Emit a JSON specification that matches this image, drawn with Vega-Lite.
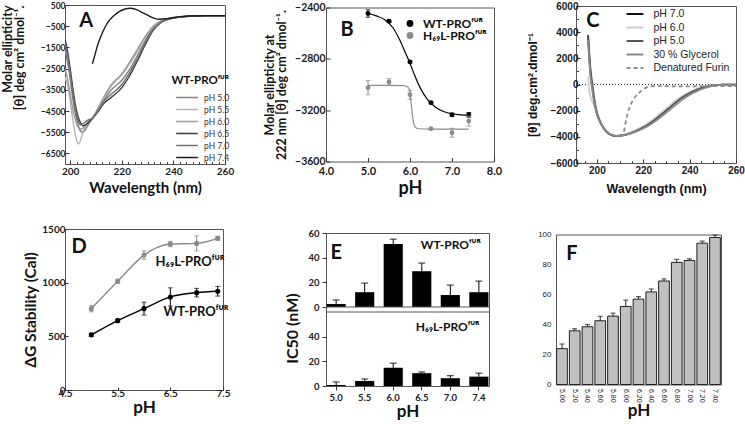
{
"$schema":"https://vega.github.io/schema/vega-lite/v6.json",
"autosize":{"type":"pad"},
"padding":{"left":0,"top":0,"right":4,"bottom":2},
"background":"white",
"config":{"view":{"stroke":null},"axis":{"grid":false,"domain":false,"labelFont":"Lato","titleFont":"Lato","labelFontWeight":"bold","titleFontWeight":"bold","labelColor":"#1a1a1a","titleColor":"#111111","tickColor":"#333333","labelFlush":false,"labelOverlap":false},"legend":{"padding":0},"text":{"font":"Lato","fontWeight":"bold","color":"#111111"}},
"datasets":{
"a":[
{"x":198,"y":-1600,"s":"pH 5.0"},{"x":199,"y":-2200,"s":"pH 5.0"},{"x":200,"y":-3000,"s":"pH 5.0"},{"x":201,"y":-3900,"s":"pH 5.0"},{"x":202,"y":-4600,"s":"pH 5.0"},{"x":203,"y":-5100,"s":"pH 5.0"},{"x":204,"y":-5450,"s":"pH 5.0"},{"x":205,"y":-5500,"s":"pH 5.0"},{"x":206,"y":-5350,"s":"pH 5.0"},{"x":207.5,"y":-5050,"s":"pH 5.0"},{"x":208.6,"y":-4850,"s":"pH 5.0"},{"x":211,"y":-4400,"s":"pH 5.0"},{"x":213,"y":-4000,"s":"pH 5.0"},{"x":216,"y":-3500,"s":"pH 5.0"},{"x":220,"y":-3050,"s":"pH 5.0"},{"x":223,"y":-2550,"s":"pH 5.0"},{"x":226,"y":-1900,"s":"pH 5.0"},{"x":229,"y":-1200,"s":"pH 5.0"},{"x":232,"y":-620,"s":"pH 5.0"},{"x":235,"y":-300,"s":"pH 5.0"},{"x":238,"y":-160,"s":"pH 5.0"},{"x":242,"y":-70,"s":"pH 5.0"},{"x":247,"y":-20,"s":"pH 5.0"},{"x":252,"y":0,"s":"pH 5.0"},{"x":260,"y":0,"s":"pH 5.0"},
{"x":198,"y":-2900,"s":"pH 5.5"},{"x":199,"y":-3300,"s":"pH 5.5"},{"x":200,"y":-4000,"s":"pH 5.5"},{"x":201,"y":-4900,"s":"pH 5.5"},{"x":202,"y":-5600,"s":"pH 5.5"},{"x":203,"y":-6050,"s":"pH 5.5"},{"x":204,"y":-5900,"s":"pH 5.5"},{"x":205,"y":-5450,"s":"pH 5.5"},{"x":206.5,"y":-5100,"s":"pH 5.5"},{"x":208.6,"y":-4850,"s":"pH 5.5"},{"x":211,"y":-4350,"s":"pH 5.5"},{"x":213,"y":-3900,"s":"pH 5.5"},{"x":216,"y":-3300,"s":"pH 5.5"},{"x":220,"y":-2800,"s":"pH 5.5"},{"x":223,"y":-2300,"s":"pH 5.5"},{"x":226,"y":-1700,"s":"pH 5.5"},{"x":229,"y":-1050,"s":"pH 5.5"},{"x":232,"y":-550,"s":"pH 5.5"},{"x":235,"y":-280,"s":"pH 5.5"},{"x":238,"y":-150,"s":"pH 5.5"},{"x":242,"y":-70,"s":"pH 5.5"},{"x":247,"y":-20,"s":"pH 5.5"},{"x":252,"y":0,"s":"pH 5.5"},{"x":260,"y":0,"s":"pH 5.5"},
{"x":198,"y":-2500,"s":"pH 6.0"},{"x":199,"y":-3000,"s":"pH 6.0"},{"x":200,"y":-3700,"s":"pH 6.0"},{"x":201,"y":-4400,"s":"pH 6.0"},{"x":202,"y":-4900,"s":"pH 6.0"},{"x":203,"y":-5250,"s":"pH 6.0"},{"x":204,"y":-5350,"s":"pH 6.0"},{"x":205,"y":-5300,"s":"pH 6.0"},{"x":206,"y":-5150,"s":"pH 6.0"},{"x":207.5,"y":-4950,"s":"pH 6.0"},{"x":208.6,"y":-4850,"s":"pH 6.0"},{"x":211,"y":-4300,"s":"pH 6.0"},{"x":213,"y":-3850,"s":"pH 6.0"},{"x":216,"y":-3250,"s":"pH 6.0"},{"x":220,"y":-2750,"s":"pH 6.0"},{"x":223,"y":-2200,"s":"pH 6.0"},{"x":226,"y":-1600,"s":"pH 6.0"},{"x":229,"y":-1000,"s":"pH 6.0"},{"x":232,"y":-520,"s":"pH 6.0"},{"x":235,"y":-260,"s":"pH 6.0"},{"x":238,"y":-140,"s":"pH 6.0"},{"x":242,"y":-60,"s":"pH 6.0"},{"x":247,"y":-20,"s":"pH 6.0"},{"x":252,"y":0,"s":"pH 6.0"},{"x":260,"y":0,"s":"pH 6.0"},
{"x":198,"y":-1100,"s":"pH 6.5"},{"x":199,"y":-1700,"s":"pH 6.5"},{"x":200,"y":-2500,"s":"pH 6.5"},{"x":201,"y":-3400,"s":"pH 6.5"},{"x":202,"y":-4200,"s":"pH 6.5"},{"x":203,"y":-4750,"s":"pH 6.5"},{"x":204,"y":-5050,"s":"pH 6.5"},{"x":205,"y":-5200,"s":"pH 6.5"},{"x":206,"y":-5150,"s":"pH 6.5"},{"x":207.5,"y":-5000,"s":"pH 6.5"},{"x":208.6,"y":-4850,"s":"pH 6.5"},{"x":211,"y":-4500,"s":"pH 6.5"},{"x":213,"y":-4150,"s":"pH 6.5"},{"x":216,"y":-3850,"s":"pH 6.5"},{"x":220,"y":-3400,"s":"pH 6.5"},{"x":223,"y":-2850,"s":"pH 6.5"},{"x":226,"y":-2150,"s":"pH 6.5"},{"x":229,"y":-1400,"s":"pH 6.5"},{"x":232,"y":-720,"s":"pH 6.5"},{"x":235,"y":-350,"s":"pH 6.5"},{"x":238,"y":-180,"s":"pH 6.5"},{"x":242,"y":-80,"s":"pH 6.5"},{"x":247,"y":-25,"s":"pH 6.5"},{"x":252,"y":0,"s":"pH 6.5"},{"x":260,"y":0,"s":"pH 6.5"},
{"x":198,"y":-1300,"s":"pH 7.0"},{"x":199,"y":-1900,"s":"pH 7.0"},{"x":200,"y":-2700,"s":"pH 7.0"},{"x":201,"y":-3600,"s":"pH 7.0"},{"x":202,"y":-4400,"s":"pH 7.0"},{"x":203,"y":-4900,"s":"pH 7.0"},{"x":204,"y":-5150,"s":"pH 7.0"},{"x":205,"y":-5100,"s":"pH 7.0"},{"x":206,"y":-5000,"s":"pH 7.0"},{"x":207.5,"y":-4900,"s":"pH 7.0"},{"x":208.6,"y":-4850,"s":"pH 7.0"},{"x":211,"y":-4450,"s":"pH 7.0"},{"x":213,"y":-4050,"s":"pH 7.0"},{"x":216,"y":-3700,"s":"pH 7.0"},{"x":220,"y":-3250,"s":"pH 7.0"},{"x":223,"y":-2700,"s":"pH 7.0"},{"x":226,"y":-2050,"s":"pH 7.0"},{"x":229,"y":-1300,"s":"pH 7.0"},{"x":232,"y":-680,"s":"pH 7.0"},{"x":235,"y":-330,"s":"pH 7.0"},{"x":238,"y":-170,"s":"pH 7.0"},{"x":242,"y":-75,"s":"pH 7.0"},{"x":247,"y":-22,"s":"pH 7.0"},{"x":252,"y":0,"s":"pH 7.0"},{"x":260,"y":0,"s":"pH 7.0"},
{"x":208.6,"y":-2270,"s":"pH 7.4"},{"x":209.5,"y":-1900,"s":"pH 7.4"},{"x":210.5,"y":-1450,"s":"pH 7.4"},{"x":212,"y":-950,"s":"pH 7.4"},{"x":213.5,"y":-550,"s":"pH 7.4"},{"x":215,"y":-250,"s":"pH 7.4"},{"x":217,"y":0,"s":"pH 7.4"},{"x":219,"y":190,"s":"pH 7.4"},{"x":221,"y":300,"s":"pH 7.4"},{"x":223.5,"y":345,"s":"pH 7.4"},{"x":226,"y":270,"s":"pH 7.4"},{"x":228,"y":140,"s":"pH 7.4"},{"x":230,"y":20,"s":"pH 7.4"},{"x":231.3,"y":-64,"s":"pH 7.4"},{"x":233,"y":-140,"s":"pH 7.4"},{"x":234.5,"y":-172,"s":"pH 7.4"},{"x":237,"y":-150,"s":"pH 7.4"},{"x":239.7,"y":-95,"s":"pH 7.4"},{"x":243,"y":-50,"s":"pH 7.4"},{"x":246,"y":-20,"s":"pH 7.4"},{"x":252,"y":-10,"s":"pH 7.4"},{"x":260,"y":-10,"s":"pH 7.4"}
],
"bpts":[
{"x":5.0,"y":-2447,"lo":-2476,"hi":-2418,"s":"WT-PROᶠᵁᴿ"},{"x":5.5,"y":-2507,"lo":-2515,"hi":-2499,"s":"WT-PROᶠᵁᴿ"},{"x":6.0,"y":-2824,"lo":-2832,"hi":-2816,"s":"WT-PROᶠᵁᴿ"},{"x":6.5,"y":-3142,"lo":-3150,"hi":-3134,"s":"WT-PROᶠᵁᴿ"},{"x":7.0,"y":-3236,"lo":-3248,"hi":-3224,"s":"WT-PROᶠᵁᴿ"},{"x":7.4,"y":-3236,"lo":-3254,"hi":-3218,"s":"WT-PROᶠᵁᴿ"},
{"x":5.0,"y":-3025,"lo":-3080,"hi":-2970,"s":"H₆₉L-PROᶠᵁᴿ"},{"x":5.5,"y":-2980,"lo":-3005,"hi":-2955,"s":"H₆₉L-PROᶠᵁᴿ"},{"x":6.0,"y":-3080,"lo":-3115,"hi":-3045,"s":"H₆₉L-PROᶠᵁᴿ"},{"x":6.5,"y":-3345,"lo":-3351,"hi":-3339,"s":"H₆₉L-PROᶠᵁᴿ"},{"x":7.0,"y":-3376,"lo":-3411,"hi":-3341,"s":"H₆₉L-PROᶠᵁᴿ"},{"x":7.4,"y":-3285,"lo":-3325,"hi":-3245,"s":"H₆₉L-PROᶠᵁᴿ"}
],
"bfit":[
{"x":5.0,"y":-2445,"s":"WT-PROᶠᵁᴿ"},{"x":5.2,"y":-2465,"s":"WT-PROᶠᵁᴿ"},{"x":5.4,"y":-2495,"s":"WT-PROᶠᵁᴿ"},{"x":5.6,"y":-2560,"s":"WT-PROᶠᵁᴿ"},{"x":5.75,"y":-2650,"s":"WT-PROᶠᵁᴿ"},{"x":5.9,"y":-2760,"s":"WT-PROᶠᵁᴿ"},{"x":6.0,"y":-2835,"s":"WT-PROᶠᵁᴿ"},{"x":6.1,"y":-2920,"s":"WT-PROᶠᵁᴿ"},{"x":6.25,"y":-3030,"s":"WT-PROᶠᵁᴿ"},{"x":6.4,"y":-3110,"s":"WT-PROᶠᵁᴿ"},{"x":6.6,"y":-3175,"s":"WT-PROᶠᵁᴿ"},{"x":6.8,"y":-3210,"s":"WT-PROᶠᵁᴿ"},{"x":7.0,"y":-3228,"s":"WT-PROᶠᵁᴿ"},{"x":7.2,"y":-3236,"s":"WT-PROᶠᵁᴿ"},{"x":7.4,"y":-3240,"s":"WT-PROᶠᵁᴿ"},
{"x":5.0,"y":-3007,"s":"H₆₉L-PROᶠᵁᴿ"},{"x":5.5,"y":-3007,"s":"H₆₉L-PROᶠᵁᴿ"},{"x":5.85,"y":-3008,"s":"H₆₉L-PROᶠᵁᴿ"},{"x":5.95,"y":-3020,"s":"H₆₉L-PROᶠᵁᴿ"},{"x":6.0,"y":-3060,"s":"H₆₉L-PROᶠᵁᴿ"},{"x":6.03,"y":-3150,"s":"H₆₉L-PROᶠᵁᴿ"},{"x":6.07,"y":-3270,"s":"H₆₉L-PROᶠᵁᴿ"},{"x":6.12,"y":-3330,"s":"H₆₉L-PROᶠᵁᴿ"},{"x":6.2,"y":-3345,"s":"H₆₉L-PROᶠᵁᴿ"},{"x":6.5,"y":-3347,"s":"H₆₉L-PROᶠᵁᴿ"},{"x":7.4,"y":-3347,"s":"H₆₉L-PROᶠᵁᴿ"}
],
"c":[
{"x":196.2,"y":3700,"s":"pH 7.0"},{"x":196.6,"y":2500,"s":"pH 7.0"},{"x":197.2,"y":1000,"s":"pH 7.0"},{"x":198,"y":-200,"s":"pH 7.0"},{"x":199,"y":-1400,"s":"pH 7.0"},{"x":200,"y":-2200,"s":"pH 7.0"},{"x":201.5,"y":-2900,"s":"pH 7.0"},{"x":203,"y":-3350,"s":"pH 7.0"},{"x":205,"y":-3720,"s":"pH 7.0"},{"x":207,"y":-3890,"s":"pH 7.0"},{"x":208.5,"y":-3930,"s":"pH 7.0"},{"x":210,"y":-3900,"s":"pH 7.0"},{"x":213,"y":-3780,"s":"pH 7.0"},{"x":216,"y":-3580,"s":"pH 7.0"},{"x":219,"y":-3320,"s":"pH 7.0"},{"x":222,"y":-3030,"s":"pH 7.0"},{"x":225,"y":-2640,"s":"pH 7.0"},{"x":228,"y":-2200,"s":"pH 7.0"},{"x":231,"y":-1750,"s":"pH 7.0"},{"x":234,"y":-1300,"s":"pH 7.0"},{"x":237,"y":-920,"s":"pH 7.0"},{"x":240,"y":-620,"s":"pH 7.0"},{"x":243,"y":-380,"s":"pH 7.0"},{"x":246,"y":-200,"s":"pH 7.0"},{"x":249,"y":-90,"s":"pH 7.0"},{"x":252,"y":-30,"s":"pH 7.0"},{"x":256,"y":-10,"s":"pH 7.0"},{"x":260,"y":-20,"s":"pH 7.0"},
{"x":196.2,"y":600,"s":"pH 6.0"},{"x":196.6,"y":-300,"s":"pH 6.0"},{"x":197.2,"y":-900,"s":"pH 6.0"},{"x":198,"y":-1300,"s":"pH 6.0"},{"x":199,"y":-1700,"s":"pH 6.0"},{"x":200,"y":-2150,"s":"pH 6.0"},{"x":201.5,"y":-2800,"s":"pH 6.0"},{"x":203,"y":-3300,"s":"pH 6.0"},{"x":205,"y":-3700,"s":"pH 6.0"},{"x":207,"y":-3880,"s":"pH 6.0"},{"x":208.5,"y":-3920,"s":"pH 6.0"},{"x":210,"y":-3890,"s":"pH 6.0"},{"x":213,"y":-3760,"s":"pH 6.0"},{"x":216,"y":-3550,"s":"pH 6.0"},{"x":219,"y":-3270,"s":"pH 6.0"},{"x":222,"y":-2960,"s":"pH 6.0"},{"x":225,"y":-2560,"s":"pH 6.0"},{"x":228,"y":-2120,"s":"pH 6.0"},{"x":231,"y":-1680,"s":"pH 6.0"},{"x":234,"y":-1240,"s":"pH 6.0"},{"x":237,"y":-870,"s":"pH 6.0"},{"x":240,"y":-580,"s":"pH 6.0"},{"x":243,"y":-350,"s":"pH 6.0"},{"x":246,"y":-180,"s":"pH 6.0"},{"x":249,"y":-80,"s":"pH 6.0"},{"x":252,"y":-30,"s":"pH 6.0"},{"x":256,"y":-10,"s":"pH 6.0"},{"x":260,"y":-20,"s":"pH 6.0"},
{"x":196.2,"y":3800,"s":"pH 5.0"},{"x":196.6,"y":2700,"s":"pH 5.0"},{"x":197.2,"y":1300,"s":"pH 5.0"},{"x":198,"y":100,"s":"pH 5.0"},{"x":199,"y":-1200,"s":"pH 5.0"},{"x":200,"y":-2100,"s":"pH 5.0"},{"x":201.5,"y":-2850,"s":"pH 5.0"},{"x":203,"y":-3350,"s":"pH 5.0"},{"x":205,"y":-3740,"s":"pH 5.0"},{"x":207,"y":-3900,"s":"pH 5.0"},{"x":208.5,"y":-3940,"s":"pH 5.0"},{"x":210,"y":-3920,"s":"pH 5.0"},{"x":213,"y":-3810,"s":"pH 5.0"},{"x":216,"y":-3620,"s":"pH 5.0"},{"x":219,"y":-3370,"s":"pH 5.0"},{"x":222,"y":-3080,"s":"pH 5.0"},{"x":225,"y":-2700,"s":"pH 5.0"},{"x":228,"y":-2280,"s":"pH 5.0"},{"x":231,"y":-1830,"s":"pH 5.0"},{"x":234,"y":-1380,"s":"pH 5.0"},{"x":237,"y":-980,"s":"pH 5.0"},{"x":240,"y":-660,"s":"pH 5.0"},{"x":243,"y":-410,"s":"pH 5.0"},{"x":246,"y":-220,"s":"pH 5.0"},{"x":249,"y":-100,"s":"pH 5.0"},{"x":252,"y":-40,"s":"pH 5.0"},{"x":256,"y":-10,"s":"pH 5.0"},{"x":260,"y":-20,"s":"pH 5.0"},
{"x":196.2,"y":3400,"s":"30 % Glycerol"},{"x":196.6,"y":2200,"s":"30 % Glycerol"},{"x":197.2,"y":700,"s":"30 % Glycerol"},{"x":198,"y":-400,"s":"30 % Glycerol"},{"x":199,"y":-1500,"s":"30 % Glycerol"},{"x":200,"y":-2250,"s":"30 % Glycerol"},{"x":201.5,"y":-2900,"s":"30 % Glycerol"},{"x":203,"y":-3350,"s":"30 % Glycerol"},{"x":205,"y":-3700,"s":"30 % Glycerol"},{"x":207,"y":-3870,"s":"30 % Glycerol"},{"x":208.5,"y":-3920,"s":"30 % Glycerol"},{"x":210,"y":-3910,"s":"30 % Glycerol"},{"x":213,"y":-3820,"s":"30 % Glycerol"},{"x":216,"y":-3660,"s":"30 % Glycerol"},{"x":219,"y":-3440,"s":"30 % Glycerol"},{"x":222,"y":-3180,"s":"30 % Glycerol"},{"x":225,"y":-2830,"s":"30 % Glycerol"},{"x":228,"y":-2430,"s":"30 % Glycerol"},{"x":231,"y":-2000,"s":"30 % Glycerol"},{"x":234,"y":-1560,"s":"30 % Glycerol"},{"x":237,"y":-1150,"s":"30 % Glycerol"},{"x":240,"y":-800,"s":"30 % Glycerol"},{"x":243,"y":-520,"s":"30 % Glycerol"},{"x":246,"y":-300,"s":"30 % Glycerol"},{"x":249,"y":-150,"s":"30 % Glycerol"},{"x":252,"y":-60,"s":"30 % Glycerol"},{"x":256,"y":-20,"s":"30 % Glycerol"},{"x":260,"y":-30,"s":"30 % Glycerol"},
{"x":211.7,"y":-3600,"s":"Denatured Furin"},{"x":212.3,"y":-3000,"s":"Denatured Furin"},{"x":213.1,"y":-2340,"s":"Denatured Furin"},{"x":214,"y":-1800,"s":"Denatured Furin"},{"x":215.2,"y":-1320,"s":"Denatured Furin"},{"x":216.5,"y":-950,"s":"Denatured Furin"},{"x":218.1,"y":-660,"s":"Denatured Furin"},{"x":219.5,"y":-430,"s":"Denatured Furin"},{"x":221,"y":-260,"s":"Denatured Furin"},{"x":223,"y":-140,"s":"Denatured Furin"},{"x":226,"y":-110,"s":"Denatured Furin"},{"x":230,"y":-130,"s":"Denatured Furin"},{"x":235,"y":-150,"s":"Denatured Furin"},{"x":240,"y":-140,"s":"Denatured Furin"},{"x":245,"y":-130,"s":"Denatured Furin"},{"x":250,"y":-130,"s":"Denatured Furin"},{"x":255,"y":-130,"s":"Denatured Furin"},{"x":260,"y":-130,"s":"Denatured Furin"}
],
"d":[
{"x":5.0,"y":514,"lo":499,"hi":529,"s":"WT"},{"x":5.5,"y":646,"lo":631,"hi":661,"s":"WT"},{"x":6.0,"y":758,"lo":698,"hi":818,"s":"WT"},{"x":6.5,"y":867,"lo":782,"hi":952,"s":"WT"},{"x":7.0,"y":907,"lo":867,"hi":947,"s":"WT"},{"x":7.4,"y":920,"lo":875,"hi":965,"s":"WT"},
{"x":5.0,"y":758,"lo":728,"hi":788,"s":"H"},{"x":5.5,"y":1013,"lo":993,"hi":1033,"s":"H"},{"x":6.0,"y":1257,"lo":1217,"hi":1297,"s":"H"},{"x":6.5,"y":1360,"lo":1335,"hi":1385,"s":"H"},{"x":7.0,"y":1366,"lo":1296,"hi":1436,"s":"H"},{"x":7.4,"y":1413,"lo":1393,"hi":1433,"s":"H"}
],
"e1":[
{"x":"5.0","y":2.4,"hi":5.7},{"x":"5.5","y":12,"hi":19.4},{"x":"6.0","y":51,"hi":55},{"x":"6.5","y":29,"hi":35.6},{"x":"7.0","y":9.7,"hi":17.8},{"x":"7.4","y":12,"hi":21}
],
"e2":[
{"x":"5.0","y":0.8,"hi":3.3},{"x":"5.5","y":4.1,"hi":5.7},{"x":"6.0","y":14.7,"hi":18.5},{"x":"6.5","y":10.4,"hi":11.4},{"x":"7.0","y":6.3,"hi":8.4},{"x":"7.4","y":7.6,"hi":10.4}
],
"f":[
{"x":"5.00","y":23.9,"hi":27},{"x":"5.20","y":35.8,"hi":37.2},{"x":"5.40","y":38.5,"hi":40},{"x":"5.60","y":42.5,"hi":45.4},{"x":"5.80","y":45.6,"hi":47.6},{"x":"6.00","y":52,"hi":56.2},{"x":"6.20","y":56.9,"hi":58.6},{"x":"6.40","y":61.7,"hi":63.7},{"x":"6.60","y":69,"hi":70.4},{"x":"6.80","y":81.4,"hi":83.4},{"x":"7.00","y":82.7,"hi":83.8},{"x":"7.20","y":94.2,"hi":95.6},{"x":"7.40","y":98,"hi":99.6}
]
},
"spacing":25,
"resolve":{"scale":{"color":"independent","strokeDash":"independent"},"legend":{"color":"independent","strokeDash":"independent"}},
"vconcat":[
{"hconcat":[
 {"width":160,"height":159,"view":{"stroke":"#555555"},
  "resolve":{"axis":{"x":"independent"}},
  "layer":[
   {"data":{"name":"a"},"mark":{"type":"line","strokeWidth":1.4,"interpolate":"monotone","clip":true},
    "encoding":{
     "x":{"field":"x","type":"quantitative","scale":{"domain":[198,260],"nice":false,"zero":false},"axis":{"orient":"bottom","values":[200,220,240,260],"tickCount":20,"title":"Wavelength (nm)","titleFontSize":15,"labelFontSize":10,"tickSize":-4,"labelPadding":6,"titlePadding":4}},
     "y":{"field":"y","type":"quantitative","scale":{"domain":[-7000,500],"nice":false,"zero":false},"axis":{"values":[500,-500,-1500,-2500,-3500,-4500,-5500,-6500],"tickCount":30,"format":"d","title":["Molar ellipticity","[θ] deg cm² dmol⁻¹."],"titleFontSize":12.5,"titleLineHeight":12,"titleAnchor":"end","labelFontSize":8.5,"tickSize":-4,"labelPadding":4,"titlePadding":14}},
     "color":{"field":"s","type":"nominal","scale":{"domain":["pH 5.0","pH 5.5","pH 6.0","pH 6.5","pH 7.0","pH 7.4"],"range":["#808080","#b4b4b4","#9a9a9a","#3a3a3a","#707070","#1a1a1a"]},
      "legend":{"title":"WT-PROᶠᵁᴿ","orient":"none","legendX":106,"legendY":70,"symbolType":"M-1.8,0H1.8","symbolSize":144,"symbolStrokeWidth":1.5,"labelFont":"Lato","labelFontSize":8.5,"labelColor":"#333333","titleFont":"Lato","titleFontSize":11.5,"titleFontWeight":"bold","titleColor":"#111111","titleAnchor":"end","titlePadding":4,"rowPadding":0,"labelOffset":10}}
    }},
   {"data":{"values":[{"x":206.2,"y":-250,"t":"A"}]},"mark":{"type":"text","fontSize":20},"encoding":{"x":{"field":"x","type":"quantitative","axis":null},"y":{"field":"y","type":"quantitative"},"text":{"field":"t"}}},
   {"data":{"values":[{"x":200},{"x":202.5},{"x":205},{"x":207.5},{"x":210},{"x":212.5},{"x":215},{"x":217.5},{"x":220},{"x":222.5},{"x":225},{"x":227.5},{"x":230},{"x":232.5},{"x":235},{"x":237.5},{"x":240},{"x":242.5},{"x":245},{"x":247.5},{"x":250},{"x":252.5},{"x":255},{"x":257.5}]},"mark":{"type":"point","opacity":0},
    "encoding":{"x":{"field":"x","type":"quantitative","axis":{"orient":"bottom","values":[202.5,205,207.5,210,212.5,215,217.5,222.5,225,227.5,230,232.5,235,237.5,242.5,245,247.5,250,252.5,255,257.5],"tickCount":60,"labels":false,"title":null,"tickSize":-2.5,"tickColor":"#444444"}}}}
  ]},
 {"width":101,"height":1,"data":{"values":[{"x":0}]},"mark":{"type":"point","opacity":0}},
 {"width":168,"height":154,"view":{"stroke":"#555555"},
  "layer":[
   {"data":{"name":"bpts"},"mark":{"type":"point","filled":true,"size":24,"opacity":1},
    "encoding":{
     "x":{"field":"x","type":"quantitative","scale":{"domain":[4,8],"nice":false,"zero":false},"axis":{"values":[4,5,6,7,8],"tickCount":20,"format":".1f","title":"pH","titleFontSize":18,"labelFontSize":11,"tickSize":-4,"labelPadding":8,"titlePadding":3}},
     "y":{"field":"y","type":"quantitative","scale":{"domain":[-3600,-2400],"nice":false,"zero":false},"axis":{"values":[-2400,-2800,-3200,-3600],"tickCount":20,"format":"d","title":["Molar ellipticity at","222 nm  [θ] deg cm² dmol⁻¹."],"titleFontSize":12.5,"titleLineHeight":12,"labelFontSize":10.5,"tickSize":-4,"labelPadding":5,"titlePadding":6}},
     "color":{"field":"s","type":"nominal","scale":{"domain":["WT-PROᶠᵁᴿ","H₆₉L-PROᶠᵁᴿ"],"range":["#000000","#8c8c8c"]},
      "legend":{"title":null,"orient":"none","legendX":78,"legendY":10,"symbolType":"circle","symbolSize":28,"labelFont":"Lato","labelFontSize":12,"labelFontWeight":"bold","labelColor":"#111111","rowPadding":-1,"labelOffset":7}}
    }},
   {"data":{"name":"bfit"},"mark":{"type":"line","strokeWidth":1.2,"interpolate":"monotone"},
    "encoding":{"x":{"field":"x","type":"quantitative"},"y":{"field":"y","type":"quantitative"},"color":{"field":"s","type":"nominal"}}},
   {"data":{"name":"bpts"},"mark":{"type":"rule","strokeWidth":1},
    "encoding":{"x":{"field":"x","type":"quantitative"},"y":{"field":"lo","type":"quantitative"},"y2":{"field":"hi"},"color":{"field":"s","type":"nominal"}}},
   {"data":{"name":"bpts"},"mark":{"type":"tick","orient":"horizontal","size":5,"thickness":1},
    "encoding":{"x":{"field":"x","type":"quantitative"},"y":{"field":"lo","type":"quantitative"},"color":{"field":"s","type":"nominal"}}},
   {"data":{"name":"bpts"},"mark":{"type":"tick","orient":"horizontal","size":5,"thickness":1},
    "encoding":{"x":{"field":"x","type":"quantitative"},"y":{"field":"hi","type":"quantitative"},"color":{"field":"s","type":"nominal"}}},
   {"data":{"values":[{"x":4.5,"y":-2579,"t":"B"}]},"mark":{"type":"text","fontSize":20},"encoding":{"x":{"field":"x","type":"quantitative"},"y":{"field":"y","type":"quantitative"},"text":{"field":"t"}}}
  ]},
 {"width":82,"height":1,"data":{"values":[{"x":0}]},"mark":{"type":"point","opacity":0}},
 {"width":160,"height":157,"view":{"stroke":"#555555"},
  "resolve":{"axis":{"x":"independent","y":"independent"}},
  "layer":[
   {"data":{"values":[{"y":0}]},"mark":{"type":"rule","strokeDash":[1,2],"color":"#333333","strokeWidth":1},"encoding":{"y":{"field":"y","type":"quantitative","axis":null}}},
   {"data":{"name":"c"},"mark":{"type":"line","strokeWidth":1.8,"interpolate":"monotone","clip":true},
    "encoding":{
     "x":{"field":"x","type":"quantitative","scale":{"domain":[191,260],"nice":false,"zero":false},"axis":{"orient":"bottom","values":[200,220,240,260],"tickCount":20,"title":"Wavelength (nm)","titleFont":"Liberation Sans","labelFont":"Liberation Sans","titleFontSize":12.5,"labelFontSize":10,"tickSize":-4,"labelPadding":6,"titlePadding":7}},
     "y":{"field":"y","type":"quantitative","scale":{"domain":[-6000,6000],"nice":false,"zero":false},"axis":{"orient":"left","values":[-6000,-4000,-2000,0,2000,4000,6000],"tickCount":30,"format":"d","title":"[θ] deg.cm².dmol⁻¹","titleFont":"Liberation Sans","labelFont":"Liberation Sans","titleFontSize":12,"labelFontSize":10,"tickSize":-4,"labelPadding":2,"titlePadding":10}},
     "color":{"field":"s","type":"nominal","scale":{"domain":["pH 7.0","pH 6.0","pH 5.0","30 % Glycerol","Denatured Furin"],"range":["#111111","#cccccc","#555555","#8a8a8a","#8a8a8a"]},
      "legend":{"title":null,"orient":"none","legendX":52,"legendY":1,"symbolType":"M-1.4,0H1.4","symbolSize":144,"symbolStrokeWidth":2,"labelFont":"Liberation Sans","labelFontSize":10.5,"labelColor":"#222222","rowPadding":0.5,"labelOffset":11.5}},
     "strokeDash":{"field":"s","type":"nominal","scale":{"domain":["pH 7.0","pH 6.0","pH 5.0","30 % Glycerol","Denatured Furin"],"range":[[1,0],[1,0],[1,0],[1,0],[4,3]]}}
    }},
   {"data":{"values":[{"x":198.3,"y":4853,"t":"C"}]},"mark":{"type":"text","fontSize":20},"encoding":{"x":{"field":"x","type":"quantitative","axis":null},"y":{"field":"y","type":"quantitative","axis":null},"text":{"field":"t"}}},
   {"data":{"values":[{"x":195,"y":-5000},{"x":205,"y":-3000},{"x":215,"y":-1000},{"x":225,"y":1000},{"x":235,"y":3000},{"x":245,"y":5000},{"x":255,"y":5000}]},"mark":{"type":"point","opacity":0},
    "encoding":{
     "x":{"field":"x","type":"quantitative","axis":{"orient":"bottom","values":[195,205,210,215,225,230,235,245,250,255],"tickCount":60,"labels":false,"title":null,"tickSize":-2.5,"tickColor":"#444444"}},
     "y":{"field":"y","type":"quantitative","axis":{"orient":"left","values":[-5000,-3000,-1000,1000,3000,5000],"tickCount":60,"labels":false,"title":null,"tickSize":-2.5,"tickColor":"#444444"}}}}
  ]}
 ],"spacing":0,"bounds":"flush","center":true,
 "resolve":{"scale":{"color":"independent","strokeDash":"independent"},"legend":{"color":"independent","strokeDash":"independent"}}},
{"hconcat":[
 {"width":158,"height":161,"view":{"stroke":"#555555"},
  "layer":[
   {"data":{"name":"d"},"mark":{"type":"line","strokeWidth":1.4,"interpolate":"monotone"},
    "encoding":{
     "x":{"field":"x","type":"quantitative","scale":{"domain":[4.5,7.5],"nice":false,"zero":false},"axis":{"values":[4.5,5.5,6.5,7.5],"tickCount":20,"format":".1f","title":"pH","titleFontSize":17,"labelFontSize":10,"tickSize":-3,"labelPadding":1,"titlePadding":1}},
     "y":{"field":"y","type":"quantitative","scale":{"domain":[0,1500],"nice":false},"axis":{"values":[0,500,1000,1500],"tickCount":20,"format":"d","title":"ΔG Stability (Cal)","titleFontSize":15.5,"labelFontSize":10,"tickSize":-3,"labelPadding":3,"titlePadding":3}},
     "color":{"field":"s","type":"nominal","scale":{"domain":["WT","H"],"range":["#000000","#8a8a8a"]},"legend":null}
    }},
   {"data":{"name":"d"},"mark":{"type":"rule","strokeWidth":1},
    "encoding":{"x":{"field":"x","type":"quantitative"},"y":{"field":"lo","type":"quantitative"},"y2":{"field":"hi"},"color":{"field":"s","type":"nominal","legend":null}}},
   {"data":{"name":"d"},"mark":{"type":"tick","orient":"horizontal","size":5,"thickness":1},
    "encoding":{"x":{"field":"x","type":"quantitative"},"y":{"field":"lo","type":"quantitative"},"color":{"field":"s","type":"nominal","legend":null}}},
   {"data":{"name":"d"},"mark":{"type":"tick","orient":"horizontal","size":5,"thickness":1},
    "encoding":{"x":{"field":"x","type":"quantitative"},"y":{"field":"hi","type":"quantitative"},"color":{"field":"s","type":"nominal","legend":null}}},
   {"data":{"name":"d"},"mark":{"type":"point","filled":true,"size":26,"opacity":1},
    "encoding":{"x":{"field":"x","type":"quantitative"},"y":{"field":"y","type":"quantitative"},"color":{"field":"s","type":"nominal","legend":null}}},
   {"data":{"values":[{"x":6.22,"y":1197,"t":"H₆₉L-PROᶠᵁᴿ"},{"x":6.37,"y":730,"t":"WT-PROᶠᵁᴿ"}]},"mark":{"type":"text","fontSize":13,"align":"left"},"encoding":{"x":{"field":"x","type":"quantitative"},"y":{"field":"y","type":"quantitative"},"text":{"field":"t"}}},
   {"data":{"values":[{"x":4.77,"y":1328,"t":"D"}]},"mark":{"type":"text","fontSize":20},"encoding":{"x":{"field":"x","type":"quantitative"},"y":{"field":"y","type":"quantitative"},"text":{"field":"t"}}}
  ]},
 {"width":103,"height":1,"data":{"values":[{"x":0}]},"mark":{"type":"point","opacity":0}},
 {"width":163,"height":153,"view":{"stroke":"#555555"},
  "resolve":{"scale":{"y":"independent"},"axis":{"y":"independent"}},
  "layer":[
   {"layer":[
    {"data":{"name":"e1"},"mark":{"type":"bar","color":"#000000"},
     "encoding":{
      "x":{"field":"x","type":"ordinal","scale":{"paddingInner":0.33,"paddingOuter":0.02},"axis":{"title":"pH","titleFontSize":17,"labelFontSize":9.5,"labelAngle":0,"tickSize":4,"labelPadding":2,"titlePadding":2}},
      "y":{"field":"y","type":"quantitative","scale":{"domain":[0,60],"nice":false,"range":[74,0]},"axis":{"orient":"left","values":[0,20,40,60],"tickCount":20,"title":null,"labelFontSize":9.5,"tickSize":4,"labelPadding":3}}
     }},
    {"data":{"name":"e1"},"mark":{"type":"rule","color":"#000000","strokeWidth":1},"encoding":{"x":{"field":"x","type":"ordinal"},"y":{"field":"y","type":"quantitative"},"y2":{"field":"hi"}}},
    {"data":{"name":"e1"},"mark":{"type":"tick","orient":"horizontal","color":"#000000","size":7,"thickness":1.2},"encoding":{"x":{"field":"x","type":"ordinal"},"y":{"field":"hi","type":"quantitative"}}},
    {"data":{"values":[{"y":0}]},"mark":{"type":"rule","color":"#555555","strokeWidth":1},"encoding":{"y":{"field":"y","type":"quantitative"}}},
    {"data":{"values":[{"x":"6.5","y":50.3,"t":"WT-PROᶠᵁᴿ"}]},"mark":{"type":"text","fontSize":12,"align":"left","dx":-1},"encoding":{"x":{"field":"x","type":"ordinal"},"y":{"field":"y","type":"quantitative"},"text":{"field":"t"}}},
    {"data":{"values":[{"x":"5.0","y":43.8,"t":"E"}]},"mark":{"type":"text","fontSize":20},"encoding":{"x":{"field":"x","type":"ordinal"},"y":{"field":"y","type":"quantitative"},"text":{"field":"t"}}}
   ]},
   {"layer":[
    {"data":{"name":"e2"},"mark":{"type":"bar","color":"#000000"},
     "encoding":{
      "x":{"field":"x","type":"ordinal"},
      "y":{"field":"y","type":"quantitative","scale":{"domain":[0,60],"nice":false,"range":[153,79]},"axis":{"orient":"left","values":[0,20,40],"tickCount":20,"title":"IC50 (nM)","titleFontSize":16,"titleY":95,"encode":{"title":{"update":{"y":{"value":95}}}},"labelFontSize":9.5,"tickSize":4,"labelPadding":3,"titlePadding":7}}
     }},
    {"data":{"name":"e2"},"mark":{"type":"rule","color":"#000000","strokeWidth":1},"encoding":{"x":{"field":"x","type":"ordinal"},"y":{"field":"y","type":"quantitative"},"y2":{"field":"hi"}}},
    {"data":{"name":"e2"},"mark":{"type":"tick","orient":"horizontal","color":"#000000","size":7,"thickness":1.2},"encoding":{"x":{"field":"x","type":"ordinal"},"y":{"field":"hi","type":"quantitative"}}},
    {"data":{"values":[{"y":60}]},"mark":{"type":"rule","color":"#555555","strokeWidth":1},"encoding":{"y":{"field":"y","type":"quantitative"}}},
    {"data":{"values":[{"x":"6.5","y":48,"t":"H₆₉L-PROᶠᵁᴿ"}]},"mark":{"type":"text","fontSize":12,"align":"left","dx":-6},"encoding":{"x":{"field":"x","type":"ordinal"},"y":{"field":"y","type":"quantitative"},"text":{"field":"t"}}}
   ]}
  ]},
 {"width":67,"height":1,"data":{"values":[{"x":0}]},"mark":{"type":"point","opacity":0}},
 {"width":165,"height":150,"view":{"stroke":"#555555"},
  "layer":[
   {"data":{"name":"f"},"mark":{"type":"bar","fill":"#c0c0c0","stroke":"#222222","strokeWidth":1},
    "encoding":{
     "x":{"field":"x","type":"ordinal","scale":{"paddingInner":0.16,"paddingOuter":0.05},"axis":{"title":"pH","titleFontSize":17,"labelFont":"Liberation Sans","labelFontWeight":"normal","labelFontSize":7,"labelAngle":90,"labelAlign":"left","labelBaseline":"middle","ticks":false,"labelPadding":4,"titlePadding":0,"labelOverlap":false}},
     "y":{"field":"y","type":"quantitative","scale":{"domain":[0,100],"nice":false},"axis":{"values":[0,20,40,60,80,100],"tickCount":30,"title":null,"labelFont":"Liberation Sans","labelFontWeight":"normal","labelFontSize":8,"ticks":false,"labelPadding":5,"labelOverlap":false}}
    }},
   {"data":{"name":"f"},"mark":{"type":"rule","color":"#222222","strokeWidth":1},"encoding":{"x":{"field":"x","type":"ordinal"},"y":{"field":"y","type":"quantitative"},"y2":{"field":"hi"}}},
   {"data":{"name":"f"},"mark":{"type":"tick","orient":"horizontal","color":"#222222","size":5,"thickness":1.2},"encoding":{"x":{"field":"x","type":"ordinal"},"y":{"field":"hi","type":"quantitative"}}},
   {"data":{"values":[{"x":"5.00","y":87,"t":"F"}]},"mark":{"type":"text","fontSize":20,"dx":10},"encoding":{"x":{"field":"x","type":"ordinal"},"y":{"field":"y","type":"quantitative"},"text":{"field":"t"}}}
  ]}
 ],"spacing":0,"bounds":"flush","center":true,
 "resolve":{"scale":{"color":"independent","strokeDash":"independent"},"legend":{"color":"independent","strokeDash":"independent"}}}
]
}
